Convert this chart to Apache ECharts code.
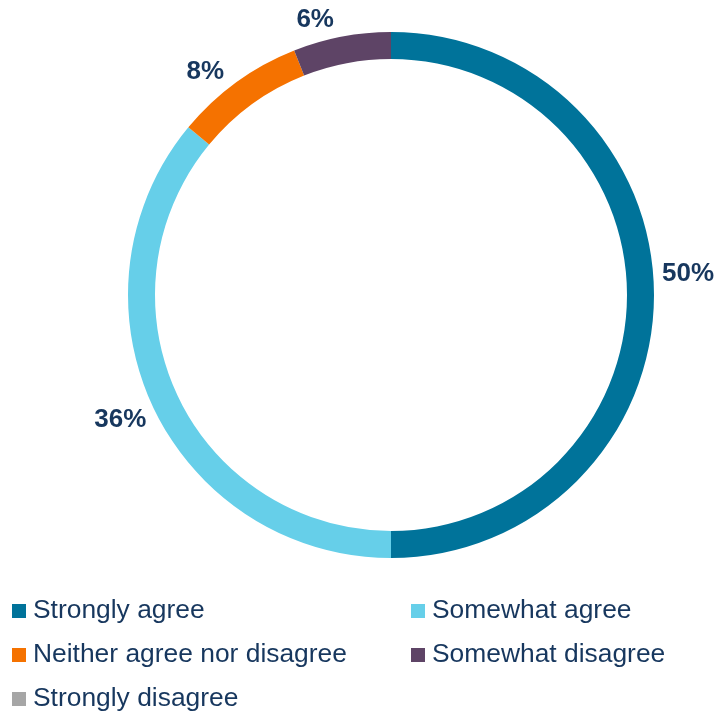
<!DOCTYPE html>
<html>
<head>
<meta charset="utf-8">
<script src="https://cdn.jsdelivr.net/npm/echarts@6/dist/echarts.min.js"></script>
<style>
  html, body { margin: 0; padding: 0; background: #ffffff; }
  #chart { width: 716px; height: 714px; }
</style>
</head>
<body>
<div id="chart"></div>
<script>
const categories = ['Strongly agree', 'Somewhat agree', 'Neither agree nor disagree', 'Somewhat disagree', 'Strongly disagree'];
const values = [50, 36, 8, 6, 0];
const colors = ['#00739A', '#66CFE9', '#F57200', '#5E4466', '#A6A6A6'];
const legendLeftColumn = ['Strongly agree', 'Neither agree nor disagree', 'Strongly disagree'];
const legendRightColumn = ['Somewhat agree', 'Somewhat disagree'];

const textColor = '#17375E';
const labelNudge = { 0: [-1, -21], 1: [2, 11], 2: [-5, -7], 3: [-2, -13] };

const chart = echarts.init(document.getElementById('chart'), null, { renderer: 'canvas' });

const data = categories.map((name, i) => ({
  name: name,
  value: values[i],
  itemStyle: { color: colors[i] },
  label: { show: values[i] > 0 }
}));

const legendCommon = {
  orient: 'vertical',
  top: 598,
  height: 120,
  padding: 0,
  itemWidth: 14,
  itemHeight: 14,
  itemGap: 18,
  icon: 'rect',
  selectedMode: false,
  textStyle: { fontFamily: 'Liberation Sans, Arial, sans-serif', fontSize: 26.4, color: textColor, padding: [0, 0, 0, 2] }
};

chart.setOption({
  animation: false,
  color: colors,
  legend: [
    Object.assign({}, legendCommon, { left: 12, data: legendLeftColumn }),
    Object.assign({}, legendCommon, { left: 411, data: legendRightColumn })
  ],
  series: [{
    type: 'pie',
    center: [391, 295],
    radius: [236, 263],
    startAngle: 90,
    clockwise: true,
    avoidLabelOverlap: false,
    silent: true,
    label: {
      show: true,
      position: 'outside',
      formatter: p => p.value + '%',
      fontFamily: 'Liberation Sans, Arial, sans-serif',
      fontWeight: 'bold',
      fontSize: 26,
      color: textColor,
      distanceToLabelLine: 5
    },
    labelLine: { show: false, length: 4, length2: 0 },
    labelLayout: p => {
      const n = labelNudge[p.dataIndex] || [0, 0];
      return { dx: n[0], dy: n[1] };
    },
    data: data
  }]
});
</script>
</body>
</html>
